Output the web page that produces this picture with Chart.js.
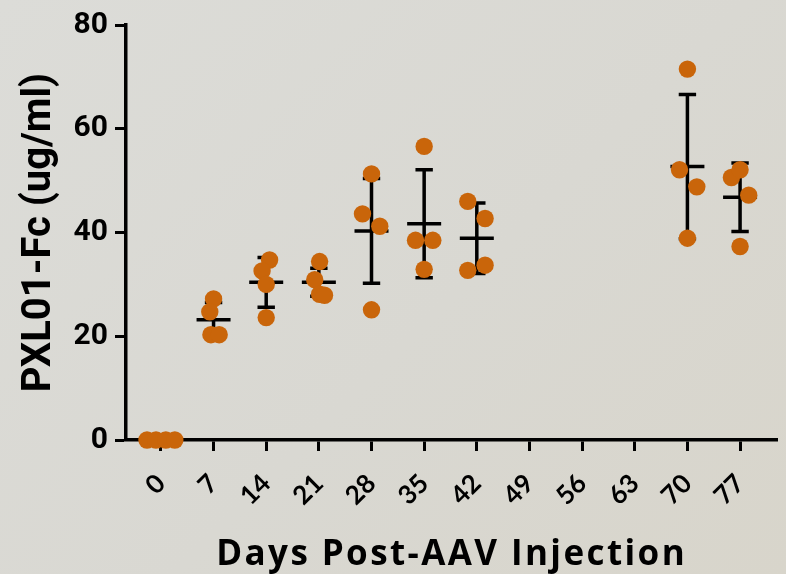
<!DOCTYPE html>
<html>
<head>
<meta charset="utf-8">
<script src="https://cdn.jsdelivr.net/npm/chart.js@4"></script>
<style>
  html, body { margin: 0; padding: 0; }
  body {
    width: 786px; height: 574px; overflow: hidden;
    background: linear-gradient(135deg, #dcdcd8 0%, #d9d8d2 55%, #d8d5cb 100%);
  }
  #pxlChart { display: block; }
</style>
</head>
<body>
<canvas id="pxlChart" width="786" height="574"></canvas>
<script>
// tick labels on the day axis
const dayTicks = [0, 7, 14, 21, 28, 35, 42, 49, 56, 63, 70, 77];
const valueTicks = [0, 20, 40, 60, 80];
const xTitle = 'Days Post-AAV Injection';

// individual animals (x = day incl. scatter offset, y = ug/ml)
const pointDays = [
    -1.85, -0.65, 0.65, 1.85,
    7.0, 6.5, 6.65, 7.75,
    14.45, 13.45, 14.0, 14.0,
    21.1, 20.45, 21.1, 21.75,
    28.0, 26.8, 29.1, 28.0,
    35.0, 33.85, 36.15, 35.0,
    40.8, 43.1, 43.1, 40.8,
    70.0, 68.95, 71.25, 70.0,
    75.85, 77.0, 78.15, 77.0
];
const pointValues = [
    0, 0, 0, 0,
    27.2, 24.7, 20.3, 20.3,
    34.7, 32.6, 30.0, 23.6,
    34.4, 30.9, 28.1, 27.9,
    51.3, 43.6, 41.2, 25.1,
    56.6, 38.5, 38.5, 32.9,
    46.0, 42.7, 33.7, 32.7,
    71.5, 52.1, 48.8, 38.9,
    50.6, 52.1, 47.2, 37.3
];

// group mean and SD
const groupDays = [0, 7, 14, 21, 28, 35, 42, 70, 77];
const groupMeans = [0, 23.2, 30.4, 30.4, 40.3, 41.7, 38.9, 52.7, 46.8];
const groupSD = [0, 3.3, 4.8, 2.7, 10.1, 10.4, 6.8, 13.9, 6.6];

const dotColor = '#c9650a';

const scatterData = pointDays.map((d, i) => ({ x: d, y: pointValues[i] }));

// mean line + SD whiskers, drawn under the dots
const errorBarPlugin = {
    id: 'errorBars',
    beforeDatasetsDraw(chart) {
        const ctx = chart.ctx;
        const xs = chart.scales.x;
        const ys = chart.scales.y;
        ctx.save();
        ctx.strokeStyle = '#000';
        ctx.lineWidth = 3.5;
        ctx.lineCap = 'butt';
        groupDays.forEach((d, i) => {
            const x = xs.getPixelForValue(d);
            const yMean = ys.getPixelForValue(groupMeans[i]);
            const yHi = ys.getPixelForValue(groupMeans[i] + groupSD[i]);
            const yLo = ys.getPixelForValue(groupMeans[i] - groupSD[i]);
            ctx.beginPath();
            ctx.moveTo(x - 17, yMean);
            ctx.lineTo(x + 17, yMean);
            if (groupSD[i] > 0) {
                ctx.moveTo(x, yHi);
                ctx.lineTo(x, yLo);
                ctx.moveTo(x - 8.7, yHi);
                ctx.lineTo(x + 8.7, yHi);
                ctx.moveTo(x - 8.7, yLo);
                ctx.lineTo(x + 8.7, yLo);
            }
            ctx.stroke();
        });
        ctx.restore();
    }
};

// x title drawn by hand so it can be letter-spaced like the original
const xTitlePlugin = {
    id: 'xTitle',
    afterDraw(chart) {
        const ctx = chart.ctx;
        const area = chart.chartArea;
        ctx.save();
        ctx.font = 'bold 35px "Open Sans"';
        ctx.letterSpacing = '2.4px';
        ctx.fillStyle = '#000';
        ctx.textAlign = 'center';
        ctx.textBaseline = 'alphabetic';
        ctx.fillText(xTitle, (area.left + area.right) / 2, 565);
        ctx.restore();
    }
};

new Chart(document.getElementById('pxlChart'), {
    type: 'scatter',
    data: {
        datasets: [{
            label: 'PXL01-Fc',
            data: scatterData,
            backgroundColor: dotColor,
            borderWidth: 0,
            pointRadius: 8.7,
            pointHoverRadius: 8.7,
            clip: false
        }]
    },
    options: {
        responsive: false,
        animation: false,
        layout: { padding: { top: 23, right: 7, left: 0, bottom: 0 } },
        plugins: {
            legend: { display: false },
            tooltip: { enabled: false }
        },
        scales: {
            x: {
                type: 'linear',
                min: -4.64,
                max: 81.95,
                afterBuildTicks: (scale) => {
                    scale.ticks = dayTicks.map(v => ({ value: v }));
                },
                afterFit: (scale) => { scale.height = 134; },
                grid: {
                    drawOnChartArea: false,
                    drawTicks: true,
                    tickLength: 11,
                    tickWidth: 3,
                    tickColor: '#000'
                },
                border: { display: true, color: '#000', width: 3.5 },
                ticks: {
                    autoSkip: false,
                    minRotation: 45,
                    maxRotation: 45,
                    padding: 17,
                    color: '#000',
                    font: { family: 'Lato', size: 26, weight: 'bold' },
                    callback: (v) => String(v)
                },
                title: { display: false }
            },
            y: {
                min: 0,
                max: 80,
                afterBuildTicks: (scale) => {
                    scale.ticks = valueTicks.map(v => ({ value: v }));
                },
                afterFit: (scale) => { scale.width = 126; },
                grid: {
                    drawOnChartArea: false,
                    drawTicks: true,
                    tickLength: 11,
                    tickWidth: 3,
                    tickColor: '#000'
                },
                border: { display: true, color: '#000', width: 3.5 },
                ticks: {
                    padding: 7,
                    color: '#000',
                    font: { family: 'Roboto', size: 30, weight: 'bold' }
                },
                title: {
                    display: true,
                    text: 'PXL01-Fc (ug/ml)',
                    color: '#000',
                    font: { family: 'Roboto', size: 40, weight: 'bold', lineHeight: 1.2 },
                    padding: { top: 16, bottom: 0 }
                }
            }
        }
    },
    plugins: [errorBarPlugin, xTitlePlugin]
});
</script>
</body>
</html>
